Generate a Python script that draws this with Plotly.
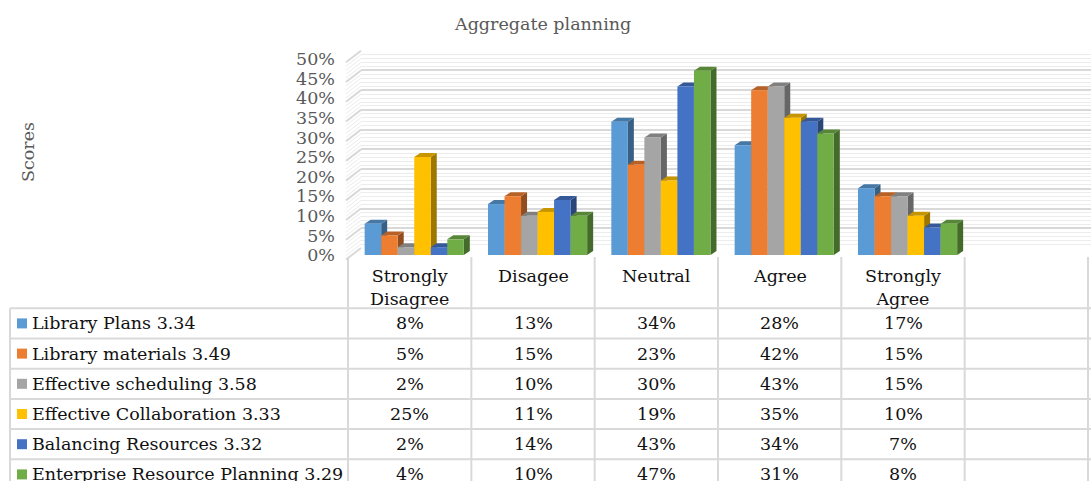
import plotly.graph_objects as go

# ---------------- data ----------------
categories = ["Strongly Disagree", "Disagee", "Neutral", "Agree", "Strongly Agree"]
series_names = [
    "Library Plans 3.34",
    "Library materials 3.49",
    "Effective scheduling 3.58",
    "Effective Collaboration 3.33",
    "Balancing Resources 3.32",
    "Enterprise Resource Planning 3.29",
]
library_plans = [0.08, 0.13, 0.34, 0.28, 0.17]
library_materials = [0.05, 0.15, 0.23, 0.42, 0.15]
effective_scheduling = [0.02, 0.10, 0.30, 0.43, 0.15]
effective_collaboration = [0.25, 0.11, 0.19, 0.35, 0.10]
balancing_resources = [0.02, 0.14, 0.43, 0.34, 0.07]
erp = [0.04, 0.10, 0.47, 0.31, 0.08]
series_values = [library_plans, library_materials, effective_scheduling,
                 effective_collaboration, balancing_resources, erp]
y_ticks = [0, 0.05, 0.10, 0.15, 0.20, 0.25, 0.30, 0.35, 0.40, 0.45, 0.50]

# ---------------- style ----------------
colors = ["#5B9BD5", "#ED7D31", "#A5A5A5", "#FFC000", "#4472C4", "#70AD47"]
W, H = 1091, 481
FONT = "DejaVu Serif"
FS = 17.5
GRAY = "#595959"
TXT = "#111111"
LINE = "#d9d9d9"


def px(x):
    return x / W


def py(y):
    return 1 - y / H


def shade(hexc, f):
    hexc = hexc.lstrip("#")
    r, g, b = (int(hexc[i:i + 2], 16) for i in (0, 2, 4))
    return "rgb(%d,%d,%d)" % (r * f, g * f, b * f)


n_cols = len(categories) + 1          # one empty column at the end
bar_w = 0.134
group_start = -0.365
dx = 0.0487                            # depth in x-units
dy = 0.0102                            # depth in y-units

fig = go.Figure()

# back wall subplot (gridlines only)
fig.add_trace(go.Scatter(x=[None], y=[None], xaxis="x", yaxis="y",
                         showlegend=False, hoverinfo="skip"))

shapes = []
for k, (name, vals) in enumerate(zip(series_names, series_values)):
    off = group_start + k * bar_w
    fig.add_trace(go.Bar(
        x=list(range(len(categories))), y=vals, name=name,
        xaxis="x2", yaxis="y2", width=bar_w, offset=off,
        marker=dict(color=colors[k], line=dict(width=0)),
        showlegend=False,
    ))
    for i, v in enumerate(vals):
        x0 = i + off
        x1 = x0 + bar_w
        shapes.append(dict(
            type="path", xref="x2", yref="y2", layer="between",
            path=f"M {x1},0 L {x1+dx},{dy} L {x1+dx},{v+dy} L {x1},{v} Z",
            fillcolor=shade(colors[k], 0.62), line=dict(width=0)))
        shapes.append(dict(
            type="path", xref="x2", yref="y2", layer="between",
            path=f"M {x0},{v} L {x0+dx},{v+dy} L {x1+dx},{v+dy} L {x1},{v} Z",
            fillcolor=shade(colors[k], 0.78), line=dict(width=0)))

# left side wall slanted lines
for j in range(51):
    major = (j % 5 == 0)
    yf = 259.5 - 3.944 * j
    yb = 248.0 - 3.946 * j
    shapes.append(dict(type="line", xref="paper", yref="paper", layer="below",
                       x0=px(346), y0=py(yf), x1=px(361), y1=py(yb),
                       line=dict(color=LINE if major else "#ececec",
                                 width=2 if major else 1)))

# ---------------- data table ----------------
col_left = 348
col_right = 1088
col_w = (col_right - col_left) / n_cols
row_top = 308.3
row_h = 30.2
n_rows = len(series_names)
for r in range(n_rows + 1):
    y = row_top + r * row_h
    shapes.append(dict(type="line", xref="paper", yref="paper",
                       x0=px(10), x1=1, y0=py(y), y1=py(y),
                       line=dict(color=LINE, width=2)))
shapes.append(dict(type="line", xref="paper", yref="paper",
                   x0=px(10), x1=px(10), y0=py(row_top), y1=0,
                   line=dict(color=LINE, width=2)))
for c in range(n_cols + 1):
    x = col_left + c * col_w
    shapes.append(dict(type="line", xref="paper", yref="paper",
                       x0=px(x), x1=px(x), y0=py(257), y1=0,
                       line=dict(color=LINE, width=2)))

annotations = []
for i, cat in enumerate(categories):
    annotations.append(dict(
        xref="x2", yref="paper", x=i, y=py(264), yanchor="top",
        xanchor="center",
        text=cat.replace(" ", "<br>"), showarrow=False,
        font=dict(family=FONT, size=FS, color=TXT)))

for r, (name, vals) in enumerate(zip(series_names, series_values)):
    yc = row_top + r * row_h + row_h / 2
    shapes.append(dict(type="rect", xref="paper", yref="paper",
                       x0=px(17), x1=px(27), y0=py(yc - 5), y1=py(yc + 5),
                       fillcolor=colors[r], line=dict(width=0)))
    annotations.append(dict(
        xref="paper", yref="paper", x=px(30), y=py(yc), xanchor="left",
        yanchor="middle", text=name, showarrow=False,
        font=dict(family=FONT, size=FS, color=TXT)))
    for i, v in enumerate(vals):
        annotations.append(dict(
            xref="x2", yref="paper", x=i, y=py(yc), yanchor="middle",
            xanchor="center",
            text=f"{round(v * 100)}%", showarrow=False,
            font=dict(family=FONT, size=FS, color=TXT)))

# titles
annotations.append(dict(xref="paper", yref="paper", x=px(542), y=py(24),
                        xanchor="center", yanchor="middle",
                        text="Aggregate planning", showarrow=False,
                        font=dict(family=FONT, size=FS, color=GRAY)))
annotations.append(dict(xref="paper", yref="paper", x=px(28), y=py(152),
                        xanchor="center", yanchor="middle",
                        text="Scores", textangle=-90, showarrow=False,
                        font=dict(family=FONT, size=FS, color=GRAY)))

fig.update_layout(
    width=W, height=H,
    autosize=False,
    margin=dict(l=0, r=0, t=0, b=0, pad=0, autoexpand=False),
    paper_bgcolor="white", plot_bgcolor="rgba(0,0,0,0)",
    showlegend=False,
    font=dict(family=FONT, size=FS, color=GRAY),
    xaxis=dict(domain=[px(361), 1], range=[0, 1], visible=False,
               automargin=False, fixedrange=True),
    yaxis=dict(domain=[py(248), py(50.7)], range=[0, 0.5],
               tickvals=y_ticks, showticklabels=False, ticks="",
               showgrid=True, gridcolor=LINE, gridwidth=2, zeroline=False,
               minor=dict(dtick=0.01, showgrid=True, gridcolor="#ececec",
                          gridwidth=1),
               automargin=False, fixedrange=True),
    xaxis2=dict(domain=[px(col_left), px(col_right)], anchor="y2",
                range=[-0.5, n_cols - 0.5], visible=False,
                automargin=False, fixedrange=True),
    yaxis2=dict(domain=[py(255), py(59)], anchor="x2", range=[0, 0.5],
                tickvals=y_ticks, tickformat=".0%", ticks="",
                ticklabelstandoff=12,
                tickfont=dict(family=FONT, size=FS, color=GRAY),
                showgrid=False, zeroline=False, showline=False,
                automargin=False, fixedrange=True),
    barmode="overlay",
    shapes=shapes,
    annotations=annotations,
)

fig.write_html("out.html")
